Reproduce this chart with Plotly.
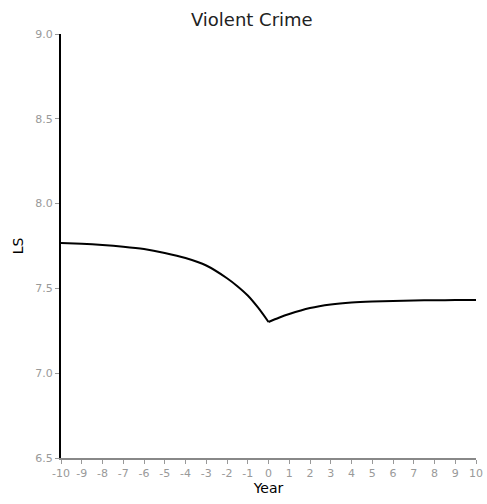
import plotly.graph_objects as go

years_pre = [-10, -9, -8, -7, -6, -5, -4, -3, -2, -1.5, -1, -0.5, 0]
ls_pre = [7.768, 7.763, 7.756, 7.746, 7.732, 7.709, 7.679, 7.635, 7.560, 7.513, 7.458, 7.386, 7.302]
years_post = [0, 0.5, 1, 2, 3, 4, 5, 6, 7, 8, 9, 10]
ls_post = [7.302, 7.327, 7.349, 7.384, 7.405, 7.417, 7.423, 7.426, 7.429, 7.430, 7.431, 7.432]

x_ticks = list(range(-10, 11))
y_ticks = [6.5, 7.0, 7.5, 8.0, 8.5, 9.0]
y_tick_labels = ["6.5", "7.0", "7.5", "8.0", "8.5", "9.0"]

fig = go.Figure()
for xs, ys in [(years_pre, ls_pre), (years_post, ls_post)]:
    fig.add_trace(go.Scatter(x=xs, y=ys, mode="lines",
                             line=dict(color="black", width=2, shape="spline", smoothing=0.8),
                             showlegend=False, hoverinfo="skip"))

fig.update_layout(
    width=487, height=504,
    margin=dict(l=61, r=11, t=34, b=46, autoexpand=False),
    paper_bgcolor="white", plot_bgcolor="white",
    font=dict(family="DejaVu Sans", color="black"),
    title=dict(text="Violent Crime", x=0.517, xref="container", xanchor="center",
               y=0.96, yref="container", yanchor="middle",
               font=dict(size=18, color="#222")),
)
fig.update_xaxes(
    range=[-10, 10], tickvals=x_ticks, ticktext=[str(v) for v in x_ticks],
    tickfont=dict(size=11, color="#999"), ticks="outside", ticklen=4,
    tickcolor="#999", showgrid=False, zeroline=False, automargin=False,
    showline=True, linecolor="#888", linewidth=2,
    title=dict(text="Year", font=dict(size=14, color="black"), standoff=2),
)
fig.update_yaxes(
    range=[6.5, 9.0], tickvals=y_ticks, ticktext=y_tick_labels,
    tickfont=dict(size=11, color="#999"), ticks="outside", ticklen=4,
    tickcolor="#999", showgrid=False, zeroline=False, automargin=False,
    showline=True, linecolor="black", linewidth=2,
    title=dict(text="LS", font=dict(size=14, color="black"), standoff=8),
)
fig.write_html("out.html")
